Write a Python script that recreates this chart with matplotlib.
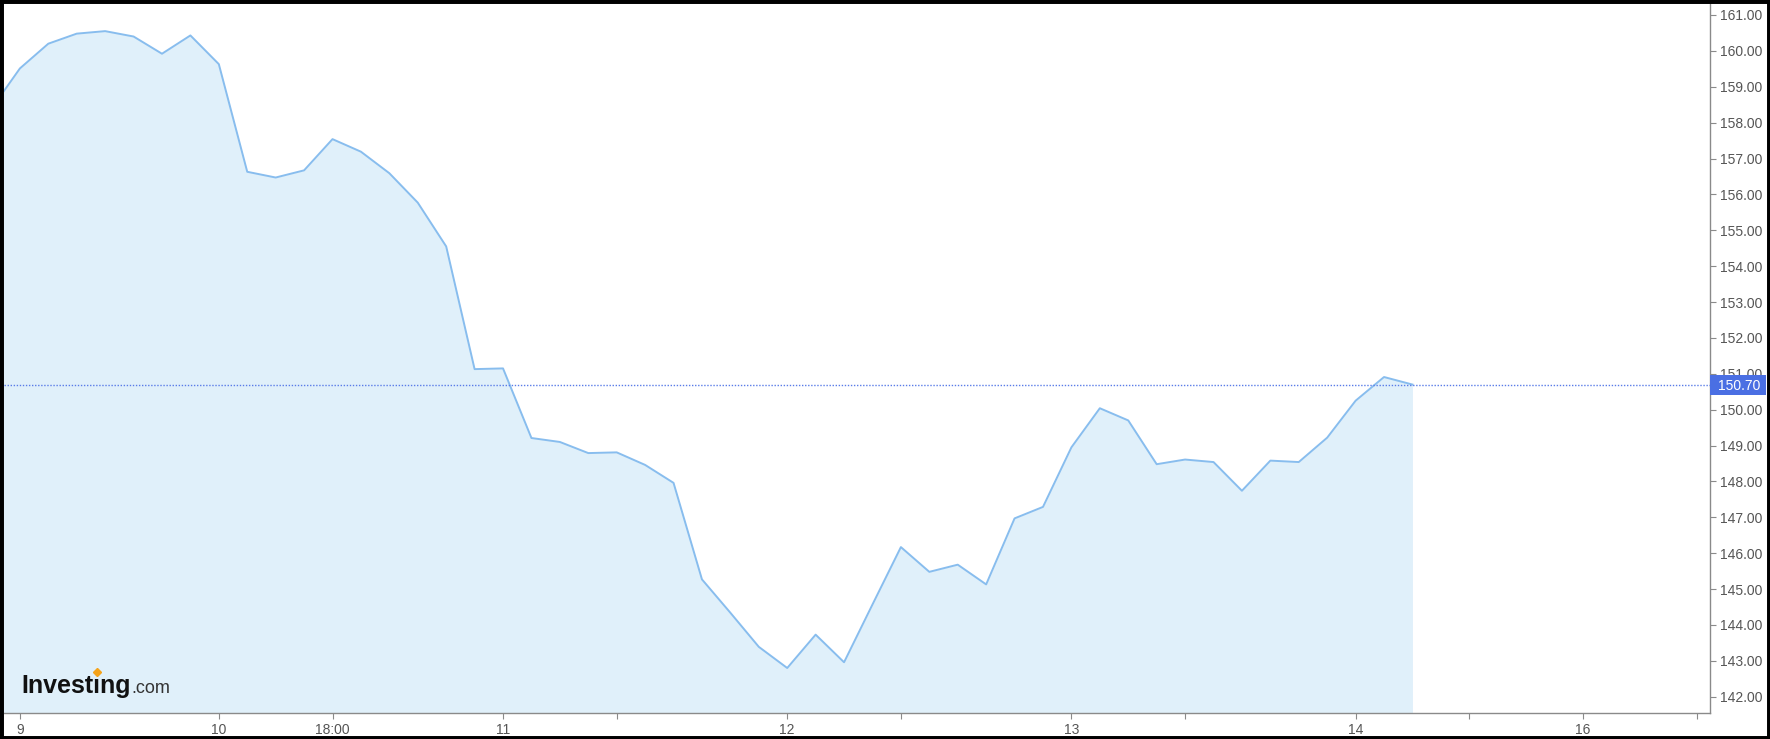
import matplotlib.pyplot as plt
from matplotlib.patches import Rectangle
from matplotlib.transforms import blended_transform_factory
from matplotlib.lines import Line2D

plt.rcParams['font.family'] = ['Liberation Sans', 'DejaVu Sans']

# bar index (one bar = 1/10 of a session), index 0 is the "9" tick
bars = list(range(-1, 50))
prices = [158.39, 159.51, 160.20, 160.48, 160.55, 160.40, 159.92, 160.43, 159.63, 156.63,
          156.47, 156.67, 157.54, 157.19, 156.59, 155.77, 154.55, 151.13, 151.15, 149.21,
          149.10, 148.79, 148.81, 148.46, 147.96, 145.27, 144.34, 143.39, 142.80, 143.73,
          142.96, 144.57, 146.17, 145.48, 145.68, 145.13, 146.97, 147.29, 148.95, 150.04,
          149.70, 148.48, 148.61, 148.54, 147.74, 148.58, 148.54, 149.22, 150.25, 150.91,
          150.70]
last_price = 150.70

xtick_pos = [0, 7, 11, 17, 21, 27, 31, 37, 41, 47, 51, 55, 59]
xtick_labels = ['9', '10', '18:00', '11', '', '12', '', '13', '', '14', '', '16', '']
ytick_vals = list(range(142, 162))

W, H = 1770, 739
fig = plt.figure(figsize=(W / 100, H / 100), dpi=100)
ax = fig.add_axes([4 / W, (H - 713) / H, (1710 - 4) / W, (713 - 3) / H])

ymin, ymax = 141.546, 161.334
ax.set_xlim(-0.559, 59.47)
ax.set_ylim(ymin, ymax)

ax.fill_between(bars, prices, ymin, color='#e0f0fa', lw=0, zorder=1)
ax.plot(bars, prices, color='#88bdee', lw=1.4, zorder=2)
ax.axhline(last_price, color='#5a7ce8', lw=1.0, ls=(0, (1.0, 1.2)), zorder=3)

# axes styling
for s in ['top', 'left']:
    ax.spines[s].set_visible(False)
for s in ['bottom', 'right']:
    ax.spines[s].set_color('#8a8a8a')
    ax.spines[s].set_linewidth(1)

ax.yaxis.tick_right()
ax.set_yticks(ytick_vals)
ax.set_yticklabels([f'{v:.2f}' for v in ytick_vals])
ax.set_xticks(xtick_pos)
ax.set_xticklabels(xtick_labels)
ax.tick_params(axis='y', length=4, color='#8a8a8a', labelcolor='#555555',
               labelsize=10, pad=3)
ax.tick_params(axis='x', length=4, color='#8a8a8a', labelcolor='#555555',
               labelsize=10, pad=3)

# last price label
tr = blended_transform_factory(ax.transAxes, ax.transData)
box_h = 20 / 35.88
ax.add_patch(Rectangle((1.0, last_price - box_h / 2), 56 / 1706, box_h,
                       transform=tr, fc='#4a6fe3', ec='none', clip_on=False, zorder=5))
ax.text(1.0 + 8 / 1706, last_price, f'{last_price:.2f}', transform=tr, color='white',
        fontsize=10, ha='left', va='center_baseline', zorder=6, clip_on=False)

# logo: "Investing" with an orange dot on the second i, then ".com"
base_y = 1 - 693 / H
logo_kw = dict(fontsize=18, fontweight='bold', color='#111111', ha='left', va='baseline')
renderer = fig.canvas.get_renderer()
head = fig.text(21 / W, base_y, 'Invest', alpha=0, **logo_kw)
head_w = head.get_window_extent(renderer).width
idot = fig.text(21 / W, base_y, 'ı', alpha=0, **logo_kw)
i_w = idot.get_window_extent(renderer).width
head.remove()
idot.remove()
word = fig.text(21 / W, base_y, 'Investıng', **logo_kw)
word_w = word.get_window_extent(renderer).width
fig.text((21 + word_w + 1) / W, base_y, '.com', fontsize=13, color='#333333',
         ha='left', va='baseline')
fig.add_artist(Line2D([(21 + head_w + i_w / 2) / W], [1 - 672 / H], marker='D',
                      markersize=3.8, color='#f5a31a', lw=0, transform=fig.transFigure))

# outer black frame
fig.add_artist(Rectangle((0, 0), 1, 1, transform=fig.transFigure, fill=False,
                         ec='black', lw=5, zorder=10))

fig.savefig('out.png', dpi=100)
